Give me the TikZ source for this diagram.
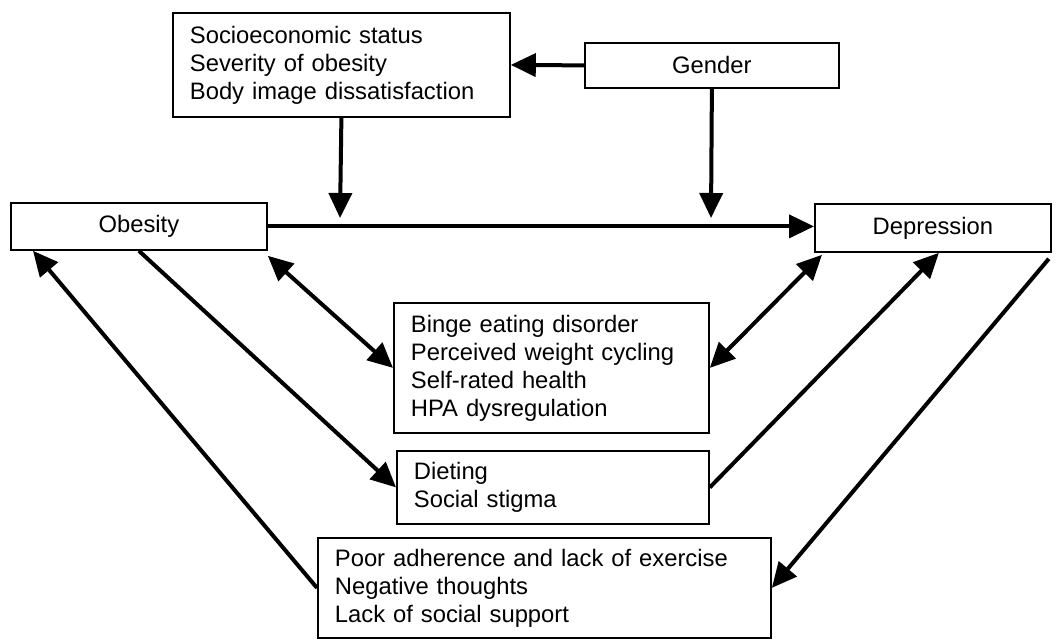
\documentclass[tikz,border=0pt]{standalone}
\usepackage{fontspec}
\setmainfont{Liberation Sans}
\usetikzlibrary{arrows.meta}

\begin{document}
\begin{tikzpicture}
    [x = 1pt, y = -1pt,
    every node/.style = {font = \fontsize{23.8pt}{28pt}\selectfont},
    box/.style = {draw, line width = 1.8pt, anchor = north west, inner sep = 0pt},
    listbox/.style = {box, align = left, inner xsep = 17pt},
    link/.style = {line width = 4pt, -{Triangle[length = 25pt, width = 23pt]}},
    twoway/.style = {line width = 4pt,
      {Triangle[length = 25pt, width = 23pt]}-{Triangle[length = 25pt, width = 23pt]}}]
    \useasboundingbox (0, 0) rectangle (1060, 640);
    \node[box, minimum width = 256pt, minimum height = 47pt] (obesity) at (10, 202) {Obesity};
    \node[box, minimum width = 236pt, minimum height = 48pt] (depression) at (814, 203) {Depression};
    \node[box, minimum width = 254pt, minimum height = 45pt] (gender) at (584, 42) {Gender};
    \node[listbox, text width = 303pt, minimum height = 104pt] (moderators) at (172, 12)
      {Socioeconomic status\\Severity of obesity\\Body image dissatisfaction};
    \node[listbox, text width = 281pt, minimum height = 130pt] (mediators) at (393, 302)
      {Binge eating disorder\\Perceived weight cycling\\Self-rated health\\HPA dysregulation};
    \node[listbox, text width = 278pt, minimum height = 73pt] (dieting) at (396, 450)
      {Dieting\\Social stigma};
    \node[listbox, text width = 419pt, minimum height = 100pt] (barriers) at (317, 537)
      {Poor adherence and lack of exercise\\Negative thoughts\\Lack of social support};
    \coordinate (modtip) at (340, 218);
    \coordinate (gentip) at (711, 218);
    \draw[link] (obesity.east) -- (obesity.east -| depression.west);
    \draw[link] (gender.west) -- (moderators.east);
    \draw[link] (moderators.south) -- (modtip);
    \draw[link] (gender.south) -- (gentip);
    \draw[twoway] ([yshift = -5pt]obesity.south east) -- (mediators.west);
    \draw[twoway] ([xshift = 8pt, yshift = -2pt]depression.south west) -- (mediators.east);
    \draw[link] (obesity.south) -- (dieting.west);
    \draw[link] (dieting.east) -- ([xshift = 6pt]depression.south);
    \draw[link] ([xshift = -3pt, yshift = -6pt]depression.south east) -- (barriers.east);
    \draw[link] (barriers.west) -- ([xshift = 23pt]obesity.south west);
\end{tikzpicture}
\end{document}
